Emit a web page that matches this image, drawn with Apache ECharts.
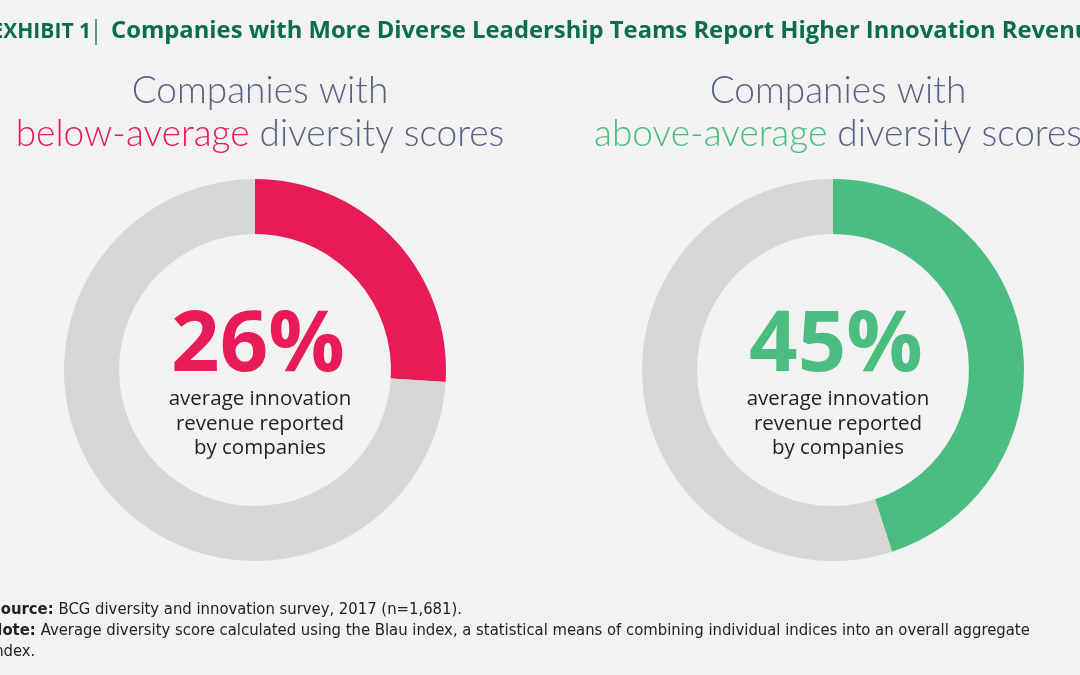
<!DOCTYPE html>
<html><head><meta charset="utf-8">
<script src="https://cdn.jsdelivr.net/npm/echarts@6/dist/echarts.min.js"></script>
<style>html,body{margin:0;padding:0;background:#f2f2f2}#c{width:1080px;height:675px}</style>
</head><body><div id="c"></div>
<script>
const groups = ['below-average', 'above-average'];
const values = [26, 45];
const valueLabels = ['26%', '45%'];
const colors = ['#e81b59', '#4cbd80'];
const restColor = '#d8d6d7';
const centersX = [255, 833];
const titleText = 'EXHIBIT 1';
const titleMain = 'Companies with More Diverse Leadership Teams Report Higher Innovation Revenue';
const subLine1 = 'Companies with';
const subLine2Rest = ' diversity scores';
const centerLines = ['average innovation', 'revenue reported', 'by companies'];
const sourceText = 'BCG diversity and innovation survey, 2017 (n=1,681).';
const noteText = 'Average diversity score calculated using the Blau index, a statistical means of combining individual indices into an overall aggregate';
const noteText2 = 'index.';

const chart = echarts.init(document.getElementById('c'), null, {renderer: 'canvas'});
const footFont = '"Liberation Sans Narrow","DejaVu Sans Condensed","Open Sans",sans-serif';
const titleGreen = '#0a6d4c';
const series = values.map((v, i) => ({
  type: 'pie',
  center: [centersX[i], 370],
  radius: [136, 191],
  startAngle: 90,
  clockwise: true,
  silent: true,
  label: {show: false},
  labelLine: {show: false},
  itemStyle: {borderWidth: 0},
  data: [
    {name: groups[i], value: v, itemStyle: {color: colors[i]}},
    {name: 'rest', value: 100 - v, itemStyle: {color: restColor}}
  ]
}));
const titles = [];
values.forEach((v, i) => {
  titles.push({
    left: centersX[i], top: 65, textAlign: 'center',
    text: '{a|' + subLine1 + '}\n{h' + i + '|' + groups[i] + '}{a|' + subLine2Rest + '}',
    textStyle: {
      rich: {
        a: {fontFamily: 'Lato, "Open Sans", sans-serif', fontWeight: 300, fontSize: 37, color: '#5b6283', lineHeight: 43},
        ['h' + i]: {fontFamily: 'Lato, "Open Sans", sans-serif', fontWeight: 300, fontSize: 37, color: colors[i], lineHeight: 43}
      }
    }
  });
  titles.push({
    left: centersX[i] - 2, top: 297, textAlign: 'center',
    text: valueLabels[i],
    textStyle: {fontFamily: '"Open Sans", Lato, sans-serif', fontWeight: 'bold', fontSize: 85, color: colors[i], lineHeight: 90}
  });
  titles.push({
    left: centersX[i], top: 382, textAlign: 'center',
    text: centerLines.join('\n'),
    textStyle: {fontFamily: '"Open Sans", Lato, sans-serif', fontWeight: 'normal', fontSize: 20.5, color: '#222222', lineHeight: 24.5}
  });
});
titles.push({
  left: 86, top: 17, textAlign: 'right',
  text: titleText,
  textStyle: {fontFamily: '"Open Sans", sans-serif', fontWeight: 'bold', fontSize: 21, color: titleGreen}
});
titles.push({
  left: 106, top: 14,
  text: titleMain,
  textStyle: {fontFamily: '"Open Sans", sans-serif', fontWeight: 'bold', fontSize: 23.8, color: titleGreen}
});
titles.push({
  left: -15, top: 594,
  text: '{b|Source:} {n|' + sourceText + '}\n{b|Note:} {n|' + noteText + '}\n{n|' + noteText2 + '}',
  textStyle: {rich: {
    b: {fontFamily: footFont, fontWeight: 'bold', fontSize: 16.5, color: '#222', lineHeight: 21},
    n: {fontFamily: footFont, fontWeight: 'normal', fontSize: 16.5, color: '#222', lineHeight: 21}
  }}
});
chart.setOption({
  backgroundColor: '#f2f2f2',
  animation: false,
  title: titles,
  graphic: [{
    type: 'line', silent: true,
    shape: {x1: 96, y1: 19, x2: 96, y2: 45},
    style: {stroke: titleGreen, lineWidth: 1.3}
  }],
  series: series
});
</script></body></html>
